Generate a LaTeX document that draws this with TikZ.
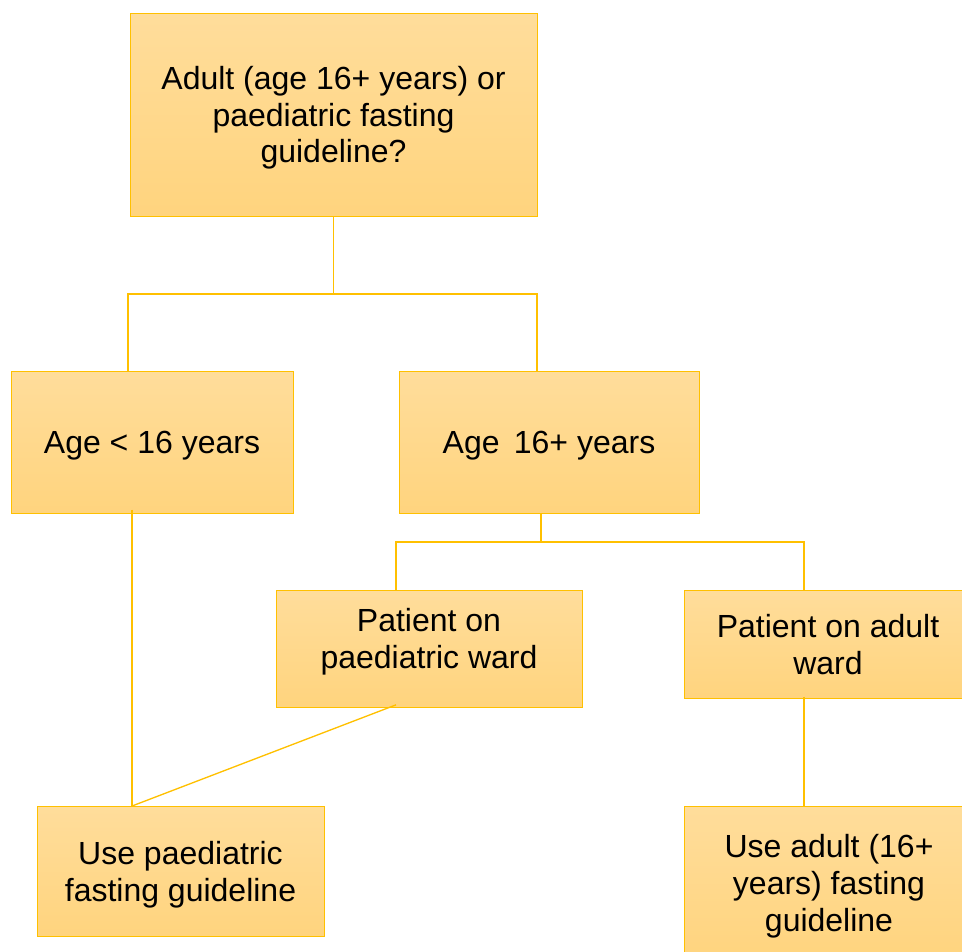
\documentclass[tikz,border=0pt]{standalone}
\usepackage{fontspec}
\setmainfont{Liberation Sans}
\definecolor{boxline}{RGB}{255,192,0}
\definecolor{boxtop}{RGB}{255,221,155}
\definecolor{boxbot}{RGB}{255,212,126}
\tikzset{every picture/.style={line width=0.75pt}}
\tikzset{
  guidebox/.style={draw=boxline, top color=boxtop, bottom color=boxbot, align=center, inner sep=0pt,
    text depth=-2pt, font=\fontsize{24}{27.6}\selectfont},
  joinline/.style={draw=boxline, line width=1pt}
}

\begin{document}
\begin{tikzpicture}[x=0.75pt,y=0.75pt,yscale=-1,xscale=1]
		\useasboundingbox (0,0) rectangle (962,951);
		
		%Question box
		\node [guidebox, minimum width=305.25pt, minimum height=152.25pt] (question) at (333.5,114.5) {Adult (age 16+ years) or\\paediatric fasting\\guideline?};
		
		%Age boxes
		\node [guidebox, minimum width=211.5pt, minimum height=106.5pt] (young) at (152,442) {Age < 16 years};
		\node [guidebox, minimum width=225pt, minimum height=106.5pt] (older) at (549,442) {Age\, 16+ years};
		
		%Ward boxes
		\node [guidebox, minimum width=229.5pt, minimum height=87.75pt, text depth=15.5pt] (pward) at (429,648.5) {Patient on\\paediatric ward};
		\node [guidebox, minimum width=216pt, minimum height=81pt] (award) at (828,644) {Patient on adult\\ward};
		
		%Result boxes
		\node [guidebox, minimum width=215.25pt, minimum height=97.5pt] (usepaed) at (180.5,871) {Use paediatric\\fasting guideline};
		\node [guidebox, minimum width=217.5pt, minimum height=115.5pt] (useadult) at (829,883) {Use adult (16+\\years) fasting\\guideline};
		
		%Joints
		\coordinate (jl) at (128,294);
		\coordinate (jr) at (537,294);
		\coordinate (km) at (541,542);
		\coordinate (kl) at (396,542);
		\coordinate (kr) at (804,542);
		\coordinate (pj) at (132,806);
		
		%Straight Lines
		\draw [joinline] (question.south) -- (question.south |- jl);
		\draw [joinline] (young.north -| jl) -- (jl) -- (jr) -- (older.north -| jr);
		\draw [joinline] (older.south -| km) -- (km);
		\draw [joinline] (pward.north -| kl) -- (kl) -- (kr) -- (award.north -| kr);
		\draw [joinline] ([yshift=-3pt]young.south -| pj) -- (pj);
		\draw [joinline] ([yshift=-2pt]pward.south -| kl) -- (pj);
		\draw [joinline] ([yshift=-1.5pt]award.south -| kr) -- (useadult.north -| kr);
		
\end{tikzpicture}
\end{document}
